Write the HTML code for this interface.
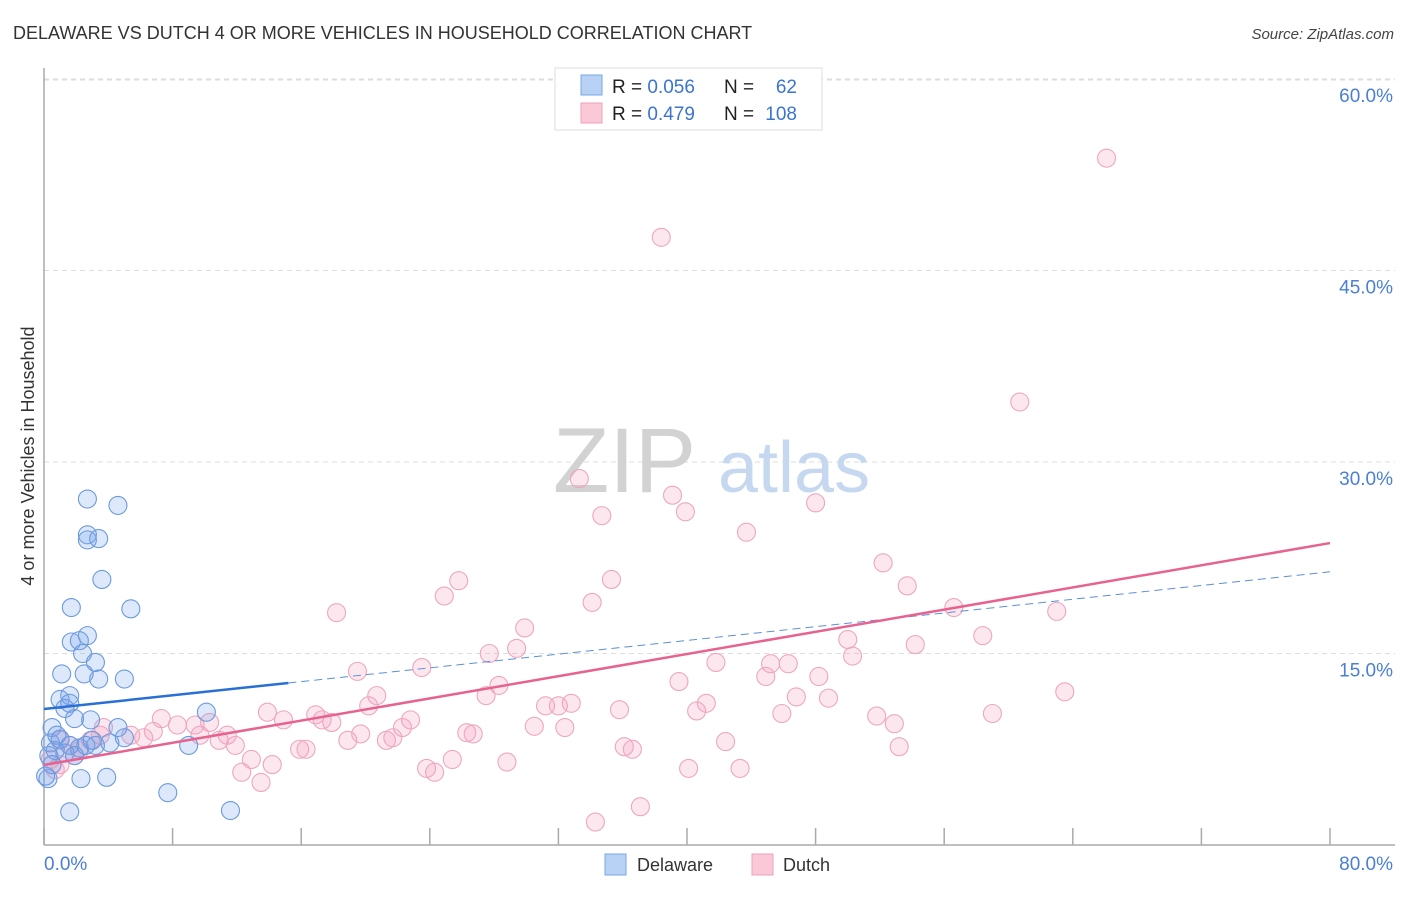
<!DOCTYPE html>
<html><head><meta charset="utf-8"><style>
body{margin:0;background:#fff;font-family:"Liberation Sans",sans-serif;}
svg text{font-family:"Liberation Sans",sans-serif;}
</style></head><body>
<svg id="chart" width="1406" height="892" xmlns="http://www.w3.org/2000/svg">
<text x="13" y="39" font-size="18" fill="#333">DELAWARE VS DUTCH 4 OR MORE VEHICLES IN HOUSEHOLD CORRELATION CHART</text>
<text x="1394" y="39" font-size="15" fill="#444" font-style="italic" text-anchor="end">Source: ZipAtlas.com</text>
<g id="grid"></g>
<g>
<text x="553" y="492" font-size="92" font-family="Liberation Serif,serif" fill="#d2d2d2">ZIP</text>
<text x="718" y="492" font-size="72" fill="#c5d8f0">atlas</text>
</g>
<line x1="44" y1="68" x2="44" y2="845" stroke="#aaa" stroke-width="1.5"/>
<line x1="44" y1="845" x2="1395" y2="845" stroke="#aaa" stroke-width="1.5"/>
<g id="ticks"></g>
<g id="pinkpts"></g>
<g id="bluepts"></g>
<g id="trends"></g>
<text transform="translate(34,456) rotate(-90)" font-size="18" fill="#333" text-anchor="middle">4 or more Vehicles in Household</text>
<text x="44" y="870" font-size="19" fill="#4a7fd4">0.0%</text>
<text x="1393" y="870" font-size="19" fill="#4a7fd4" text-anchor="end">80.0%</text>
<g>
<rect x="555" y="68" width="267" height="62" fill="#fff" stroke="#ddd"/>
<rect x="581" y="75" width="21" height="20" fill="#b7d2f5" stroke="#7aa7e3"/>
<rect x="581" y="103" width="21" height="20" fill="#fbc8d8" stroke="#eea0ba"/>
<text x="612" y="93" font-size="19" fill="#222">R = <tspan fill="#3a75d0">0.056</tspan></text>
<text x="724" y="93" font-size="19" fill="#222">N =</text><text x="797" y="93" font-size="19" fill="#3a75d0" text-anchor="end">62</text>
<text x="612" y="120" font-size="19" fill="#222">R = <tspan fill="#3a75d0"> 0.479</tspan></text>
<text x="724" y="120" font-size="19" fill="#222">N =</text><text x="797" y="120" font-size="19" fill="#3a75d0" text-anchor="end">108</text>
</g>
<g>
<rect x="605" y="854" width="21" height="21" fill="#b7d2f5" stroke="#7aa7e3"/>
<text x="637" y="871" font-size="18" fill="#333">Delaware</text>
<rect x="752" y="854" width="21" height="21" fill="#fbc8d8" stroke="#eea0ba"/>
<text x="783" y="871" font-size="18" fill="#333">Dutch</text>
</g>
</svg>
<script>
const yTicks=[15,30,45,60];
const yTickLabels=["15.0%","30.0%","45.0%","60.0%"];
const xTicks=[0,8,16,24,32,40,48,56,64,72,80];
const delawareX=[2.7,4.6,2.7,2.7,3.4,3.6,1.7,5.4,2.7,1.7,2.2,2.4,3.2,1.1,2.5,3.4,5.0,1.6,1.0,1.3,1.6,10.1,2.9,1.9,4.6,0.5,9.0,0.4,1.0,1.6,2.2,3.2,4.1,5.0,0.7,0.3,1.3,2.3,3.9,0.25,0.1,7.7,1.6,11.6,0.5,0.8,1.9,2.6,3.0];
const delawareY=[27.1,26.6,24.3,23.9,24.0,20.8,18.6,18.5,16.4,15.9,16.0,15.0,14.3,13.4,13.4,13.0,13.0,11.7,11.4,10.7,11.1,10.4,9.8,9.9,9.2,9.2,7.8,8.0,8.3,7.8,7.6,7.8,8.0,8.4,7.4,7.0,7.2,5.2,5.3,5.2,5.4,4.1,2.6,2.7,6.3,8.6,7.0,7.8,8.2];
const dutchX=[66.1,38.4,60.7,33.3,39.1,34.7,39.9,48.0,43.7,52.2,25.8,35.3,53.7,24.9,34.1,18.2,63.0,56.6,29.9,58.4,50.0,54.2,27.7,29.4,50.3,41.8,45.2,46.3,23.5,19.5,44.9,39.5,48.2,28.3,27.5,63.5,20.7,46.8,48.8,31.2,32.0,32.8,20.2,35.8,41.2,40.6,45.9,51.8,59.0,13.9,16.9,14.9,17.3,17.9,10.3,7.3,8.3,9.4,22.8,22.3,52.9,30.5,32.4,26.3,26.7,6.8,3.7,11.4,9.7,5.4,6.2,18.9,19.7,21.3,21.7,10.9,42.4,11.9,15.9,16.3,36.1,36.6,53.2,12.9,14.2,25.4,28.8,12.3,23.8,24.3,40.1,43.3,13.5,37.1,34.3,0.4,1.0,1.6,2.2,2.9,3.5,1.0,1.9,0.7];
const dutchY=[53.8,47.6,34.7,28.7,27.4,25.8,26.1,26.8,24.5,22.1,20.7,20.8,20.3,19.5,19.0,18.2,18.3,18.6,17.0,16.4,16.1,15.7,15.0,15.4,14.8,14.3,14.2,14.2,13.9,13.6,13.2,12.8,13.2,12.5,11.7,12.0,11.7,11.6,11.5,10.9,10.9,11.1,10.9,10.6,11.1,10.5,10.3,10.1,10.3,10.4,10.2,9.8,9.8,9.6,9.6,9.9,9.4,9.4,9.8,9.2,9.5,9.3,9.2,8.8,8.7,8.9,9.2,8.6,8.6,8.6,8.4,8.2,8.7,8.2,8.4,8.2,8.1,7.8,7.5,7.5,7.7,7.5,7.7,6.7,6.3,6.7,6.5,5.7,6.0,5.7,6.0,6.0,4.9,3.0,1.8,6.7,6.3,7.8,7.4,8.2,8.6,8.2,7.0,5.9];
const blueTrend=[10.65,21.4]; const blueSolidEnd=15.2;
const pinkTrend=[6.27,23.65];
const NS="http://www.w3.org/2000/svg";
const sx=v=>44+v/80*1286, sy=v=>845-v/15*191.5;
function mk(tag,attrs,parent){const e=document.createElementNS(NS,tag);for(const k in attrs)e.setAttribute(k,attrs[k]);parent.appendChild(e);return e;}
const grid=document.getElementById('grid');
yTicks.forEach((t,i)=>{
 const l=mk('line',{x1:44,x2:1395,y1:sy(t),y2:sy(t),stroke:'#ddd','stroke-dasharray':'5,4'},grid);
 
 
 const tx=mk('text',{x:1393,y:sy(t)+23,'font-size':19,fill:'#4a7fd4','text-anchor':'end'},grid);
 tx.textContent=yTickLabels[i];
 
 
});
const gl=mk('line',{x1:44,x2:1395,y1:80,y2:80,stroke:'#ddd','stroke-dasharray':'5,4'},grid);


const ticks=document.getElementById('ticks');
xTicks.forEach(t=>{
 const l=mk('line',{x1:sx(t),x2:sx(t),y1:828,y2:845,stroke:'#aaa','stroke-width':1.5},ticks);
 
 
});
const pp=document.getElementById('pinkpts');
dutchX.forEach((x,i)=>{
 const c=mk('circle',{cx:sx(x),cy:sy(dutchY[i]),r:9,fill:'rgba(245,160,190,0.25)',stroke:'#eea6bf','stroke-width':1.1},pp);
 
 
});
const bp=document.getElementById('bluepts');
delawareX.forEach((x,i)=>{
 const c=mk('circle',{cx:sx(x),cy:sy(delawareY[i]),r:9,fill:'rgba(120,165,235,0.25)',stroke:'#6b9ade','stroke-width':1.1},bp);
 
 
});
const tr=document.getElementById('trends');
const bAt=x=>blueTrend[0]+(blueTrend[1]-blueTrend[0])*x/80;
const l1=mk('line',{x1:sx(blueSolidEnd),y1:sy(bAt(blueSolidEnd)),x2:sx(80),y2:sy(bAt(80)),stroke:'#5b8fd8','stroke-width':1,'stroke-dasharray':'8,5'},tr);


const l2=mk('line',{x1:sx(0),y1:sy(bAt(0)),x2:sx(blueSolidEnd),y2:sy(bAt(blueSolidEnd)),stroke:'#2a6fd6','stroke-width':2.5},tr);


const l3=mk('line',{x1:sx(0),y1:sy(pinkTrend[0]),x2:sx(80),y2:sy(pinkTrend[1]),stroke:'#e8628f','stroke-width':2.5},tr);


</script>
</body></html>
